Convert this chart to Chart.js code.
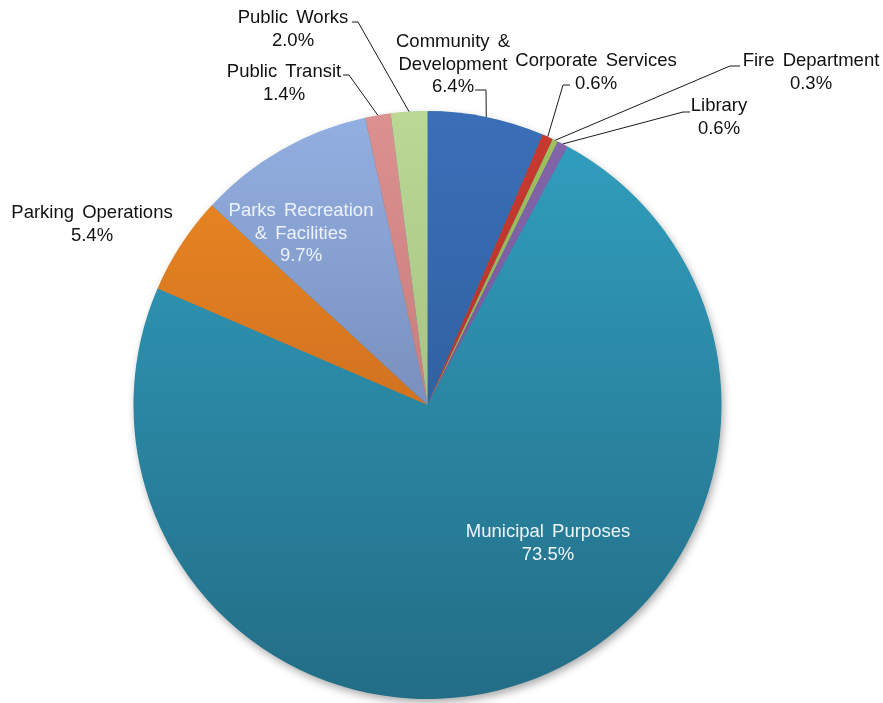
<!DOCTYPE html>
<html>
<head>
<meta charset="utf-8">
<script src="https://cdn.jsdelivr.net/npm/chart.js@4/dist/chart.umd.min.js"></script>
<style>
  html, body { margin: 0; padding: 0; background: #ffffff; }
  #wrap { width: 883px; height: 703px; position: relative; }
</style>
</head>
<body>
<div id="wrap"><canvas id="budget" width="883" height="703"></canvas></div>
<script>
// Share of the budget by department (percent), clockwise from 12 o'clock
const departments = [
  'Community & Development',
  'Corporate Services',
  'Fire Department',
  'Library',
  'Municipal Purposes',
  'Parking Operations',
  'Parks Recreation & Facilities',
  'Public Transit',
  'Public Works'
];
const shares = [6.4, 0.6, 0.3, 0.6, 73.5, 5.4, 9.7, 1.4, 2.0];

// Label text lines per slice (the value line is appended from `shares`)
const labelLines = [
  ['Community &', 'Development'],
  ['Corporate Services'],
  ['Fire Department'],
  ['Library'],
  ['Municipal Purposes'],
  ['Parking Operations'],
  ['Parks Recreation', '& Facilities'],
  ['Public Transit'],
  ['Public Works']
];

// Slice fill: vertical shading from the top of the pie to the bottom
const shadeTop = ['#3a6fb8', '#c9392f', '#a2c05e', '#8466aa', '#31a0c0', '#f08a22', '#93b0e2', '#dc9090', '#bcd895'];
const shadeBottom = ['#27538c', '#a3302a', '#84a04a', '#66508a', '#236d86', '#b35b1f', '#60709a', '#b86a6a', '#93ad70'];

// Label placement: centre of first text line, text colour, and leader path (after the slice edge point)
const labelLayout = [
  { x: 453, y: 42,  color: '#111', leader: [[486, 90], [475, 90]] },
  { x: 596, y: 61,  color: '#111', leader: [[563, 85], [570, 85]] },
  { x: 811, y: 61,  color: '#111', leader: [[730, 66], [740, 66]] },
  { x: 719, y: 106, color: '#111', leader: [[683, 112], [690, 112]] },
  { x: 548, y: 532, color: '#eef4f8', leader: null },
  { x: 92,  y: 213, color: '#111', leader: null },
  { x: 301, y: 211, color: '#eef2fa', leader: null },
  { x: 284, y: 72,  color: '#111', leader: [[349, 75], [343, 75]] },
  { x: 293, y: 18,  color: '#111', leader: [[358, 22], [352, 22]] }
];

const FONT = '18.5px "Liberation Sans", Arial, sans-serif';
const LINE_H = 22.5;

function sliceFill(ctx) {
  const chart = ctx.chart;
  const area = chart.chartArea;
  if (!area) return shadeTop[ctx.dataIndex];
  const g = chart.ctx.createLinearGradient(0, area.top, 0, area.bottom);
  g.addColorStop(0, shadeTop[ctx.dataIndex]);
  g.addColorStop(1, shadeBottom[ctx.dataIndex]);
  return g;
}

// Soft drop shadow under the whole pie
const pieShadow = {
  id: 'pieShadow',
  beforeDatasetsDraw(chart) {
    const arc = chart.getDatasetMeta(0).data[0];
    if (!arc) return;
    const { x, y, outerRadius } = arc.getProps(['x', 'y', 'outerRadius'], true);
    const c = chart.ctx;
    c.save();
    c.shadowColor = 'rgba(0,0,0,0.35)';
    c.shadowBlur = 8;
    c.shadowOffsetX = 2;
    c.shadowOffsetY = 4;
    c.beginPath();
    c.arc(x, y, outerRadius - 0.5, 0, Math.PI * 2);
    c.fillStyle = '#2a88a5';
    c.fill();
    c.restore();
  }
};

// Category name + percentage labels with leader lines
const sliceLabels = {
  id: 'sliceLabels',
  afterDatasetsDraw(chart) {
    const meta = chart.getDatasetMeta(0);
    const c = chart.ctx;
    c.save();
    c.font = FONT;
    if ('wordSpacing' in c) c.wordSpacing = '3px';
    c.textAlign = 'center';
    c.textBaseline = 'middle';
    meta.data.forEach((arc, i) => {
      const lay = labelLayout[i];
      const p = arc.getProps(['x', 'y', 'startAngle', 'endAngle', 'outerRadius'], true);
      if (lay.leader) {
        const mid = (p.startAngle + p.endAngle) / 2;
        c.beginPath();
        c.moveTo(p.x + Math.cos(mid) * p.outerRadius, p.y + Math.sin(mid) * p.outerRadius);
        lay.leader.forEach(pt => c.lineTo(pt[0], pt[1]));
        c.strokeStyle = '#1a1a1a';
        c.lineWidth = 1;
        c.stroke();
      }
      const lines = labelLines[i].concat([shares[i].toFixed(1) + '%']);
      c.fillStyle = lay.color;
      lines.forEach((t, k) => c.fillText(t, lay.x, lay.y + k * LINE_H));
    });
    c.restore();
  }
};

new Chart(document.getElementById('budget'), {
  type: 'pie',
  data: {
    labels: departments,
    datasets: [{
      data: shares,
      backgroundColor: sliceFill,
      borderWidth: 0,
      offset: 0,
      hoverOffset: 0
    }]
  },
  options: {
    responsive: false,
    animation: false,
    events: [],
    layout: { padding: { left: 133, right: 161, top: 111, bottom: 4 } },
    plugins: {
      legend: { display: false },
      title: { display: false },
      tooltip: { enabled: false }
    }
  },
  plugins: [pieShadow, sliceLabels]
});
</script>
</body>
</html>
